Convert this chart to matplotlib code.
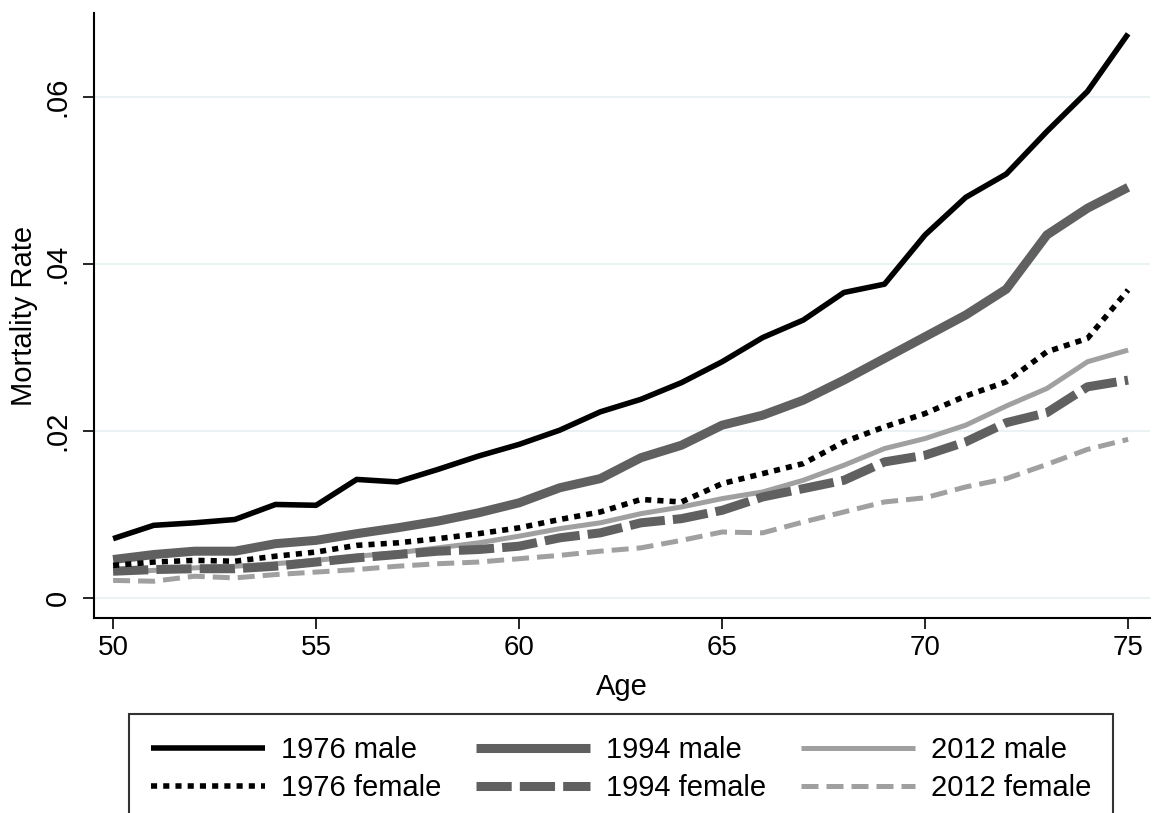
import matplotlib
matplotlib.use('Agg')
import matplotlib.pyplot as plt

plt.rcParams['font.family'] = ['Liberation Sans', 'DejaVu Sans']

# Mortality rates by age
ages = list(range(50, 76))
male_1976 = [.0071, .0087, .0090, .0094, .0112, .0111, .0142, .0139, .0154, .0170, .0184, .0201, .0223,
             .0238, .0258, .0283, .0312, .0333, .0366, .0376, .0435, .0480, .0508, .0559, .0607, .0676]
male_1994 = [.0046, .0052, .0056, .0056, .0065, .0069, .0077, .0084, .0092, .0102, .0114, .0132, .0143,
             .0168, .0183, .0207, .0219, .0237, .0261, .0287, .0313, .0339, .0370, .0435, .0467, .0492]
male_2012 = [.0031, .0033, .0036, .0038, .0041, .0045, .0050, .0054, .0060, .0066, .0074, .0083, .0090,
             .0101, .0109, .0119, .0127, .0141, .0159, .0179, .0191, .0207, .0230, .0251, .0283, .0297]
female_1976 = [.0039, .0043, .0045, .0044, .0050, .0055, .0063, .0066, .0071, .0077, .0084, .0094, .0103,
               .0118, .0115, .0137, .0149, .0161, .0187, .0205, .0221, .0242, .0259, .0295, .0311, .0369]
female_1994 = [.0032, .0034, .0035, .0035, .0038, .0043, .0048, .0052, .0056, .0058, .0062, .0072, .0078,
               .0090, .0095, .0105, .0121, .0131, .0141, .0163, .0171, .0187, .0210, .0222, .0253, .0261]
female_2012 = [.0021, .0020, .0026, .0024, .0028, .0031, .0034, .0038, .0041, .0043, .0047, .0051, .0056,
               .0060, .0069, .0079, .0078, .0091, .0103, .0115, .0120, .0133, .0143, .0160, .0178, .0190]

x_ticks = [50, 55, 60, 65, 70, 75]
y_ticks = [0, .02, .04, .06]
y_tick_labels = ['0', '.02', '.04', '.06']

fig = plt.figure(figsize=(11.52, 8.13), dpi=100)
ax = fig.add_axes([0.0816, 0.2399, 0.9167, 0.7442])

dark = '#606060'
light = '#a0a0a0'

# plot order: last drawn on top, as in the reference
l_f12, = ax.plot(ages, female_2012, color=light, lw=3.6, linestyle=(0, (3.4, 1.6)))
l_m12, = ax.plot(ages, male_2012, color=light, lw=3.6)
l_f94, = ax.plot(ages, female_1994, color=dark, lw=6.5, linestyle=(0, (3.9, 0.9)))
l_m94, = ax.plot(ages, male_1994, color=dark, lw=6.5)
l_f76, = ax.plot(ages, female_1976, color='black', lw=4, linestyle=(0, (1.1, 1.1)))
l_m76, = ax.plot(ages, male_1976, color='black', lw=4)

for ln in [l_f12, l_m12, l_f94, l_m94, l_f76, l_m76]:
    ln.set_dash_capstyle('butt')
    ln.set_solid_capstyle('butt')

ax.set_xlim(49.53, 75.54)
ax.set_ylim(-0.0024, 0.0701)
ax.set_xticks(x_ticks)
ax.set_xticklabels([str(t) for t in x_ticks], fontsize=20)
ax.set_yticks(y_ticks)
ax.set_yticklabels(y_tick_labels, fontsize=21, rotation=90, va='center')

ax.grid(axis='y', color='#eaf2f3', lw=1.5)
ax.set_axisbelow(True)
for side in ['top', 'right']:
    ax.spines[side].set_visible(False)
for side in ['left', 'bottom']:
    ax.spines[side].set_linewidth(1.5)
ax.tick_params(axis='x', length=8, width=1.2, pad=4)
ax.tick_params(axis='y', length=8, width=1.2, pad=8)

ax.set_xlabel('Age', fontsize=21, labelpad=9)
ax.set_ylabel('Mortality Rate', fontsize=21, labelpad=4)

handles = [l_m76, l_f76, l_m94, l_f94, l_m12, l_f12]
labels = ['1976 male', '1976 female', '1994 male', '1994 female', '2012 male', '2012 female']
leg = fig.legend(handles, labels, ncol=3, loc='upper left',
                 bbox_to_anchor=(129 / 1152, 1 - 714 / 813), bbox_transform=fig.transFigure,
                 fontsize=21, frameon=True, fancybox=False,
                 handlelength=3.9, handletextpad=0.55, labelspacing=0.34, borderpad=0.75,
                 borderaxespad=0, columnspacing=1.2)
leg.get_frame().set_edgecolor('black')
leg.get_frame().set_linewidth(1.5)

fig.savefig('out.png', dpi=100)
